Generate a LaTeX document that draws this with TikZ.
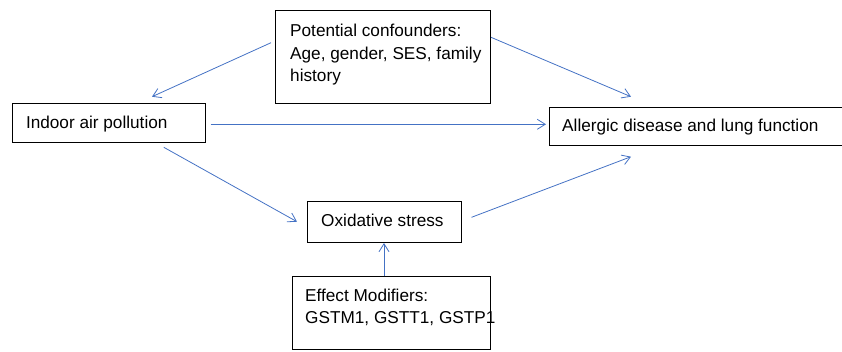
\documentclass[tikz,border=0pt]{standalone}
\usepackage{fontspec}
\setmainfont{Liberation Sans}
\usetikzlibrary{arrows.meta}
\definecolor{arrowblue}{RGB}{68,114,196}
\tikzset{
  boxnode/.style={draw=black, line width=0.9pt, inner sep=0pt, anchor=north west},
  txt/.style={anchor=base west, inner sep=0pt, font=\fontsize{17.2}{22.7}\selectfont},
  conn/.style={draw=arrowblue, line width=0.8pt, -{Straight Barb[length=8pt,width=10pt]}}
}
\begin{document}
\begin{tikzpicture}[x=1pt,y=-1pt]
\useasboundingbox (0,0) rectangle (842,351);
% boxes
\node[boxnode, minimum width=215pt, minimum height=93.5pt] (conf) at (275,9.5) {};
\node[boxnode, minimum width=192.5pt, minimum height=38.7pt] (indoor) at (12,103) {};
\node[boxnode, minimum width=300pt, minimum height=37.5pt] (allergic) at (549,107) {};
\node[boxnode, minimum width=154pt, minimum height=41.3pt] (ox) at (307,201) {};
\node[boxnode, minimum width=198pt, minimum height=73.3pt] (eff) at (292,276) {};
% texts
\node[txt] (conft1) at (290,36) {Potential confounders:};
\node[txt] (conft2) at (290,59) {Age, gender, SES, family};
\node[txt] (conft3) at (290,81.7) {history};
\node[txt] (indoort) at (25.8,128.7) {Indoor air pollution};
\node[txt] (allergict) at (562,131) {Allergic disease and lung function};
\node[txt] (oxt) at (321,226.7) {Oxidative stress};
\node[txt] (efft1) at (305,301.7) {Effect Modifiers:};
\node[txt] (efft2) at (305,323.3) {GSTM1, GSTT1, GSTP1};
% connector ends
\coordinate (c1s) at (271,42.7);
\coordinate (c1e) at (152,96.7);
\coordinate (c2s) at (491,37.3);
\coordinate (c2e) at (631,96.7);
\coordinate (c3s) at (210.5,124.3);
\coordinate (c3e) at (546,124.3);
\coordinate (c4s) at (163.8,147.3);
\coordinate (c4e) at (297,221.7);
\coordinate (c5s) at (471.5,217.3);
\coordinate (c5e) at (631,156.7);
\coordinate (c6s) at (384,276);
\coordinate (c6e) at (384,243);
\draw[conn] (c1s) -- (c1e);
\draw[conn] (c2s) -- (c2e);
\draw[conn] (c3s) -- (c3e);
\draw[conn] (c4s) -- (c4e);
\draw[conn] (c5s) -- (c5e);
\draw[conn] (c6s) -- (c6e);
\end{tikzpicture}
\end{document}
